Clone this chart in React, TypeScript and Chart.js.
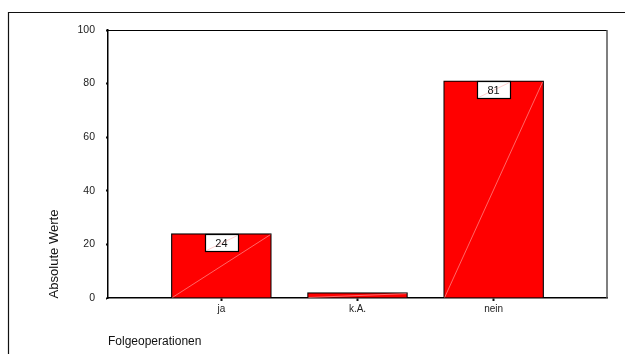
import React, { useEffect, useRef } from "react";
import { Chart, registerables } from "chart.js";

Chart.register(...registerables);

// Folgeoperationen: absolute Häufigkeiten
const categories = ["ja", "k.A.", "nein"];
const counts = [24, 2, 81];
const yTicks = [0, 20, 40, 60, 80, 100];
const yTitle = "Absolute Werte";
const xTitle = "Folgeoperationen";

const FONT = "'Liberation Sans', Arial, sans-serif";

// Frame, plot border, bar diagonals, value boxes and axis titles
const decorPlugin = {
  id: "decor",
  afterDatasetsDraw(chart: any) {
    const { ctx, chartArea } = chart;
    const meta = chart.getDatasetMeta(0);
    ctx.save();

    // thin light diagonal through each bar
    meta.data.forEach((bar: any) => {
      const half = bar.width / 2;
      ctx.beginPath();
      ctx.strokeStyle = "rgba(255,190,190,0.9)";
      ctx.lineWidth = 0.6;
      ctx.moveTo(bar.x - half + 1, bar.base);
      ctx.lineTo(bar.x + half - 1, bar.y + 1);
      ctx.stroke();
    });

    // value boxes at the top of the taller bars
    meta.data.forEach((bar: any, i: number) => {
      const v = counts[i];
      if (v < 5) return;
      const w = 33;
      const h = 17;
      const left = Math.round(bar.x - w / 2) + 0.5;
      const top = Math.round(bar.y) + 0.5;
      ctx.fillStyle = "#fff";
      ctx.fillRect(left, top, w, h);
      ctx.beginPath();
      ctx.strokeStyle = "rgba(255,170,170,0.9)";
      ctx.lineWidth = 0.6;
      ctx.moveTo(left + 1, top + h - 1);
      ctx.lineTo(left + w - 1, top + 1);
      ctx.stroke();
      ctx.strokeStyle = "#000";
      ctx.lineWidth = 1.2;
      ctx.strokeRect(left, top, w, h);
      ctx.fillStyle = "#111";
      ctx.font = `11px ${FONT}`;
      ctx.textAlign = "center";
      ctx.textBaseline = "middle";
      ctx.fillText(String(v), bar.x, top + h / 2 + 0.5);
    });

    // plot box: top and right edges
    ctx.beginPath();
    ctx.strokeStyle = "#000";
    ctx.lineWidth = 1.2;
    ctx.moveTo(chartArea.left, chartArea.top + 0.5);
    ctx.lineTo(chartArea.right, chartArea.top + 0.5);
    ctx.stroke();
    ctx.beginPath();
    ctx.strokeStyle = "#555";
    ctx.lineWidth = 1.5;
    ctx.moveTo(chartArea.right, chartArea.top);
    ctx.lineTo(chartArea.right, chartArea.bottom);
    ctx.stroke();

    // outer frame
    ctx.beginPath();
    ctx.strokeStyle = "#111";
    ctx.lineWidth = 1.2;
    ctx.moveTo(8.5, chart.height);
    ctx.lineTo(8.5, 12.5);
    ctx.lineTo(chart.width, 12.5);
    ctx.stroke();

    // y axis title, rotated and slightly condensed
    ctx.save();
    ctx.fillStyle = "#111";
    ctx.font = `13px ${FONT}`;
    ctx.textAlign = "center";
    ctx.textBaseline = "middle";
    const tw = ctx.measureText(yTitle).width;
    ctx.translate(54, chartArea.bottom - 44);
    ctx.rotate(-Math.PI / 2);
    ctx.scale(89 / tw, 1);
    ctx.fillText(yTitle, 0, 0);
    ctx.restore();

    // x axis title
    ctx.fillStyle = "#111";
    ctx.font = `12px ${FONT}`;
    ctx.textAlign = "left";
    ctx.textBaseline = "middle";
    ctx.fillText(xTitle, chartArea.left, 342);

    ctx.restore();
  },
};

export default function App() {
  const canvasRef = useRef<HTMLCanvasElement | null>(null);

  useEffect(() => {
    if (!canvasRef.current) return;
    const chart = new Chart(canvasRef.current, {
      type: "bar",
      data: {
        datasets: [
          {
            data: categories.map((_, i) => ({ x: i, y: counts[i] })),
            backgroundColor: "#ff0000",
            borderColor: "#000",
            borderWidth: 1.2,
            borderSkipped: "bottom",
            barThickness: 100,
          },
        ],
      },
      options: {
        animation: false,
        responsive: false,
        devicePixelRatio: 1,
        layout: { padding: { top: 30, right: 18, left: 0, bottom: 0 } },
        plugins: {
          legend: { display: false },
          tooltip: { enabled: false },
        },
        scales: {
          x: {
            type: "linear",
            offset: false,
            min: -0.833,
            max: 2.833,
            afterBuildTicks: (scale: any) => {
              scale.ticks = categories.map((_, i) => ({ value: i }));
            },
            afterFit: (scale: any) => {
              scale.height = 56;
            },
            ticks: {
              callback: (v: any) => categories[v] ?? "",
              color: "#222",
              font: { family: FONT, size: 10 },
              padding: 2,
              maxRotation: 0,
              autoSkip: false,
            },
            grid: {
              display: true,
              offset: false,
              drawOnChartArea: false,
              drawTicks: true,
              tickLength: 3,
              tickWidth: 2,
              tickColor: "#111",
            },
            border: { display: true, color: "#000", width: 1.5 },
          },
          y: {
            min: 0,
            max: 100,
            afterBuildTicks: (scale: any) => {
              scale.ticks = yTicks.map((v) => ({ value: v }));
            },
            afterFit: (scale: any) => {
              scale.width = 108;
            },
            ticks: {
              color: "#222",
              font: { family: FONT, size: 10.5 },
              padding: 11,
            },
            grid: {
              display: true,
              drawOnChartArea: false,
              drawTicks: true,
              tickLength: 2,
              tickWidth: 2,
              tickColor: "#111",
            },
            border: { display: true, color: "#000", width: 1.5 },
          },
        },
      },
      plugins: [decorPlugin],
    });
    return () => chart.destroy();
  }, []);

  return (
    <div style={{ position: "fixed", left: 0, top: 0, width: 625, height: 354, background: "#fff" }}>
      <canvas ref={canvasRef} width={625} height={354} style={{ display: "block" }} />
    </div>
  );
}
